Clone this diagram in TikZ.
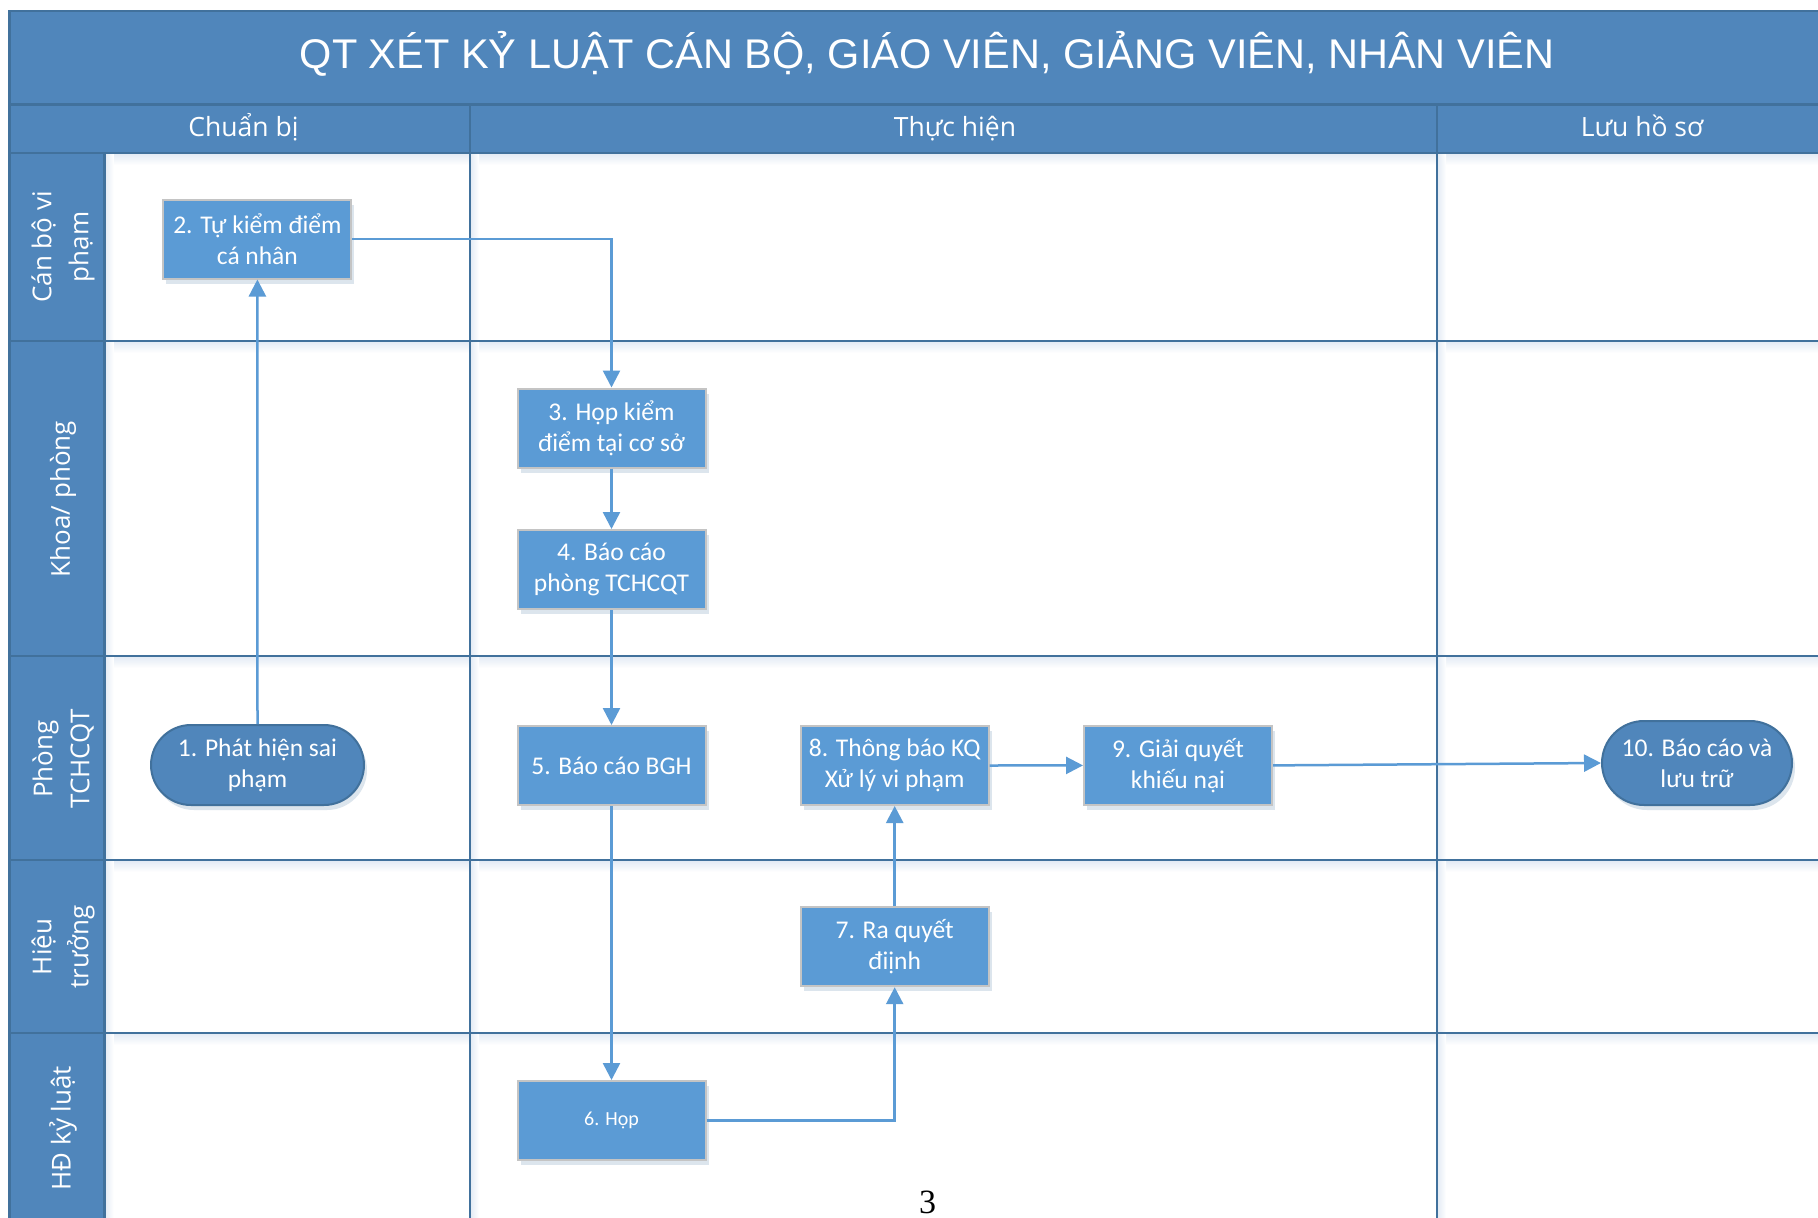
\documentclass[tikz,border=0pt]{standalone}
\usepackage{fontspec}
\setmainfont{Carlito}
\newfontfamily\titlefont{Liberation Sans}
\newfontfamily\hdrfont{Open Sans}
\newfontfamily\pagefont{Liberation Serif}
\usetikzlibrary{arrows.meta,shadows,shapes.misc}
\definecolor{hdr}{HTML}{5086BB}
\definecolor{laneedge}{HTML}{41719C}
\definecolor{boxfill}{HTML}{5B9BD5}
\definecolor{boxedge}{HTML}{C4C4C4}
\definecolor{connc}{HTML}{5B9BD5}
\definecolor{shd}{HTML}{E2EAF4}
\begin{document}
\begin{tikzpicture}[x=1pt,y=-1pt,
  laneline/.style={draw=laneedge, line width=2.2pt},
  boxshadow/.style={drop shadow={shadow xshift=3pt, shadow yshift=-5pt, opacity=0.18, fill=laneedge}},
  proc/.style={draw=boxedge, line width=2pt, fill=boxfill, minimum width=188pt, minimum height=79pt,
    inner sep=0pt, align=center, text=white, font=\fontsize{25.5}{31}\selectfont, boxshadow},
  term/.style={rounded rectangle, draw=laneedge, line width=2pt, fill=hdr, inner sep=0pt,
    align=center, text=white, font=\fontsize{25.5}{31}\selectfont, boxshadow},
  conn/.style={draw=connc, line width=2.5pt, -{Triangle[length=17pt,width=17pt]}},
  hdrtext/.style={text=white, font=\hdrfont\fontsize{26.5}{32}\selectfont, anchor=base},
  lanetext/.style={rotate=90, text=white, align=center, font=\hdrfont\fontsize{26}{37}\selectfont}
]
\useasboundingbox (0,0) rectangle (1818,1218);
\clip (0,0) rectangle (1818,1218);
\fill[white] (0,0) rectangle (1818,1218);

% faint shadows of the swimlane grid
\foreach \yy in {153,341,656,860,1033}
  \shade[top color=shd, bottom color=white] (104.5,\yy) rectangle (1845,\yy+12);
\foreach \xx in {104.5,470,1437}
  \shade[left color=shd, right color=white] (\xx,153) rectangle (\xx+9,1227);

% header bands and lane column
\fill[hdr] (9.5,11) rectangle (1845,153);
\fill[hdr] (9.5,153) rectangle (104.5,1227);

% grid lines
\draw[laneline] (9.5,11) rectangle (1845,1227);
\draw[laneline] (9.5,104.5) -- (1845,104.5);
\draw[laneline] (9.5,153) -- (1845,153);
\foreach \yy in {341,656,860,1033}
  \draw[laneline] (9.5,\yy) -- (1845,\yy);
\draw[laneline] (104.5,153) -- (104.5,1227);
\draw[laneline] (470,104.5) -- (470,1227);
\draw[laneline] (1437,104.5) -- (1437,1227);

% title and headers
\node[anchor=base, text=white, font=\titlefont\fontsize{41.5}{48}\selectfont] (title) at (927,68)
  {QT XÉT KỶ LUẬT CÁN BỘ, GIÁO VIÊN, GIẢNG VIÊN, NHÂN VIÊN};
\node[hdrtext] (h1) at (243.5,136) {Chuẩn bị};
\node[hdrtext] (h2) at (955,136) {Thực hiện};
\node[hdrtext] (h3) at (1642,136) {Lưu hồ sơ};

% lane labels
\node[lanetext] (l1) at (63,247) {Cán bộ vi\\phạm};
\node[lanetext] (l2) at (63,499) {Khoa/ phòng};
\node[lanetext] (l3) at (63,759) {Phòng\\TCHCQT};
\node[lanetext] (l4) at (63,947) {Hiệu\\trưởng};
\node[lanetext] (l5) at (63,1128) {HĐ kỷ luật};

% process nodes
\node[term, minimum width=213pt, minimum height=80pt] (n1) at (257.5,765) {1. Phát hiện sai\\phạm};
\node[proc] (n2) at (257.4,239) {2. Tự kiểm điểm\\cá nhân};
\node[proc] (n3) at (611.5,428) {3. Họp kiểm\\điểm tại cơ sở};
\node[proc] (n4) at (611.5,569.5) {4. Báo cáo\\phòng TCHCQT};
\node[proc] (n5) at (611.5,765.5) {5. Báo cáo BGH};
\node[proc, font=\fontsize{20}{24}\selectfont] (n6) at (611.5,1120.5) {6. Họp};
\node[proc] (n7) at (894.7,946.7) {7. Ra quyết\\điịnh};
\node[proc] (n8) at (894.7,765.5) {8. Thông báo KQ\\Xử lý vi phạm};
\node[proc] (n9) at (1178,765.4) {9. Giải quyết\\khiếu nại};
\node[term, minimum width=190pt, minimum height=84pt] (n10) at (1697,763) {10. Báo cáo và\\lưu trữ};

% connectors
\draw[conn] (n1.north) -- (n2.south);
\draw[conn] (n2.east) -| (n3.north);
\draw[conn] (n3.south) -- (n4.north);
\draw[conn] (n4.south) -- (n5.north);
\draw[conn] (n5.south) -- (n6.north);
\draw[conn] (n6.east) -| (n7.south);
\draw[conn] (n7.north) -- (n8.south);
\draw[conn] (n8.east) -- (n9.west);
\draw[conn] (n9.east) -- (n10.west);

% page number
\node[anchor=base, font=\pagefont\fontsize{34}{40}\selectfont] (pg) at (927.5,1213) {3};
\end{tikzpicture}
\end{document}
